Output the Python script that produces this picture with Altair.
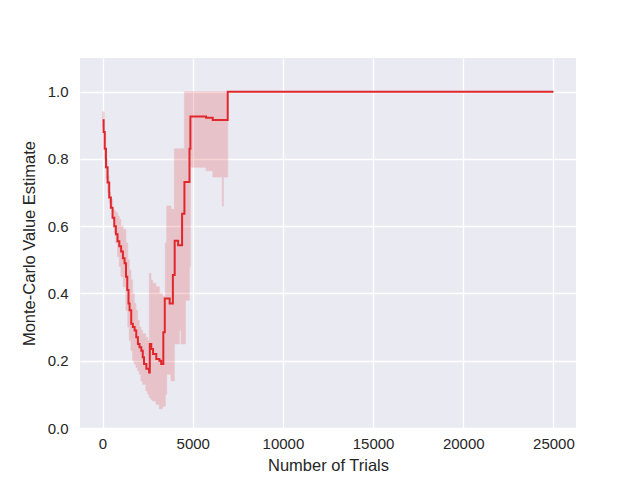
import altair as alt
import pandas as pd

# Mean estimate (step line)
mean_x = [0, 60, 120, 190, 280, 370, 460, 555, 650, 740, 830, 930, 1030, 1130, 1220,
          1300, 1370, 1440, 1500, 1590, 1680, 1780, 1870, 1960, 2050, 2150, 2230, 2300,
          2430, 2580, 2620, 2700, 2800, 2980, 3150, 3250, 3370, 3450, 3720, 3900, 4000,
          4190, 4410, 4540, 4820, 4870, 5740, 6110, 6940, 25000]
mean_y = [0.915, 0.88, 0.83, 0.775, 0.73, 0.685, 0.655, 0.625, 0.60, 0.576, 0.555, 0.54,
          0.525, 0.505, 0.49, 0.45, 0.41, 0.37, 0.35, 0.31, 0.30, 0.29, 0.27, 0.25, 0.24,
          0.23, 0.21, 0.19, 0.176, 0.165, 0.25, 0.235, 0.22, 0.205, 0.20, 0.19, 0.285,
          0.385, 0.37, 0.455, 0.557, 0.543, 0.637, 0.731, 0.83, 0.926, 0.922, 0.916,
          1.0, 1.0]

# Confidence band
band_x = [0, 90, 185, 280, 370, 460, 556, 650, 740, 830, 926, 1020, 1150, 1296, 1400,
          1481, 1574, 1667, 1760, 1852, 1944, 2037, 2130, 2222, 2400, 2500, 2593, 2685,
          2778, 2963, 3148, 3333, 3481, 3556, 3796, 3981, 4260, 4352, 4537, 4593, 4815,
          4870, 5741, 6111, 6640, 6700, 6944, 25000]
band_hi = [0.94, 0.88, 0.80, 0.75, 0.70, 0.68, 0.65, 0.645, 0.64, 0.63, 0.62, 0.60, 0.59,
           0.55, 0.50, 0.47, 0.44, 0.40, 0.37, 0.35, 0.32, 0.30, 0.29, 0.28, 0.27, 0.26,
           0.46, 0.44, 0.43, 0.42, 0.40, 0.39, 0.55, 0.66, 0.65, 0.83, 0.83, 0.83, 1.0,
           1.0, 1.0, 1.0, 1.0, 1.0, 1.0, 1.0, 1.0, 1.0]
band_lo = [0.895, 0.80, 0.74, 0.70, 0.67, 0.655, 0.62, 0.58, 0.55, 0.51, 0.48, 0.45, 0.42,
           0.35, 0.30, 0.26, 0.23, 0.20, 0.19, 0.18, 0.17, 0.16, 0.14, 0.13, 0.11, 0.10,
           0.09, 0.085, 0.08, 0.07, 0.057, 0.065, 0.10, 0.16, 0.14, 0.25, 0.29, 0.25, 0.25,
           0.38, 0.48, 0.775, 0.765, 0.746, 0.66, 0.746, 1.0, 1.0]

x_ticks = [0, 5000, 10000, 15000, 20000, 25000]
y_ticks = [0.0, 0.2, 0.4, 0.6, 0.8, 1.0]

RED = "#e0282c"

line_df = pd.DataFrame({"x": mean_x, "y": mean_y})
band_df = pd.DataFrame({"x": band_x, "lo": band_lo, "hi": band_hi})

xscale = alt.Scale(domain=[-1250, 26250], nice=False, zero=False)
yscale = alt.Scale(domain=[0, 1.1], nice=False)

xaxis = alt.Axis(title="Number of Trials", values=x_ticks, format="d")
yaxis = alt.Axis(title="Monte-Carlo Value Estimate", values=y_ticks, format=".1f")

band = alt.Chart(band_df).mark_area(
    interpolate="step-after", color=RED, opacity=0.2, stroke=RED, strokeWidth=1,
    strokeOpacity=0.6,
).encode(
    x=alt.X("x:Q", scale=xscale, axis=xaxis),
    y=alt.Y("lo:Q", scale=yscale, axis=yaxis),
    y2="hi:Q",
)

line = alt.Chart(line_df).mark_line(
    interpolate="step-after", color=RED, strokeWidth=2
).encode(
    x=alt.X("x:Q", scale=xscale, axis=xaxis),
    y=alt.Y("y:Q", scale=yscale, axis=yaxis),
)

chart = alt.layer(band, line).properties(
    width=496, height=370,
    autosize=alt.AutoSizeParams(type="none"),
    padding={"left": 72, "top": 50, "right": 48, "bottom": 44},
    background="white",
).configure_view(
    fill="#EAEAF2", stroke=None,
).configure_axis(
    grid=True, gridColor="white", gridWidth=1.3, gridOpacity=1,
    domain=False, ticks=False,
    labelFont="Liberation Sans", titleFont="Liberation Sans",
    labelFontSize=15, titleFontSize=16.5, labelColor="#262626", titleColor="#262626",
    titleFontWeight="normal",
).configure_axisX(
    labelPadding=8, titlePadding=6,
).configure_axisY(
    labelPadding=12, titlePadding=10,
)

chart.save("out.html", embed_options={"renderer": "svg", "actions": False})
